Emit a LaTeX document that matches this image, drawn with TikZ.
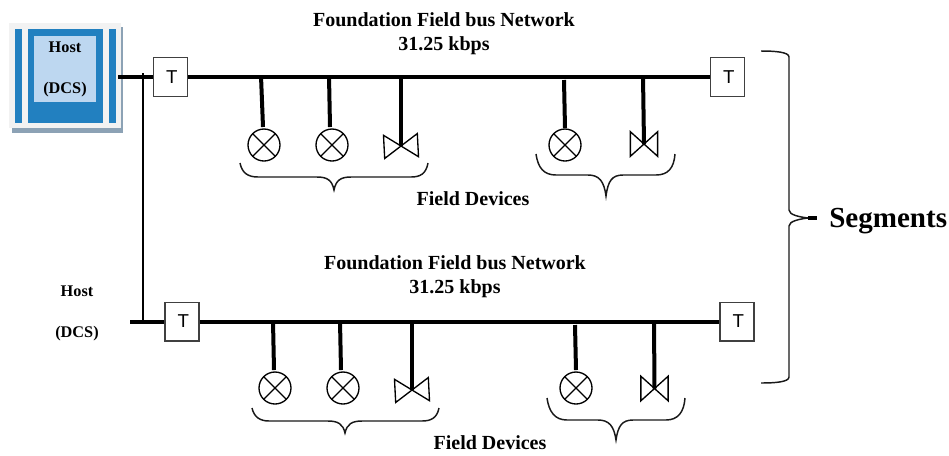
\documentclass[tikz,border=0pt]{standalone}
\usepackage{fontspec}
\setmainfont{Liberation Serif}
\setsansfont{Liberation Sans}
\definecolor{hostblue}{HTML}{2280C0}
\definecolor{hostlight}{HTML}{BDD7F0}
\definecolor{hostpanel}{HTML}{F2F2F2}
\definecolor{hostshadow}{HTML}{8CA2B5}
\tikzstyle{terminator} = [rectangle, minimum width=25.5pt, minimum height=29pt, inner sep=0pt, draw=black!75, line width=1pt, fill=white, font=\sffamily\fontsize{14}{14}\selectfont]
\tikzstyle{sensor} = [circle, minimum size=24pt, inner sep=0pt, draw=black, line width=1pt, path picture={\draw [line width=1pt] (path picture bounding box.north west) -- (path picture bounding box.south east) (path picture bounding box.north east) -- (path picture bounding box.south west);}]
\tikzstyle{bowtie} = [inner sep=0pt, minimum width=25pt, minimum height=17pt, rotate=3, append after command={\pgfextra{\draw [line width=1pt] (\tikzlastnode.north west) -- (\tikzlastnode.south east) -- (\tikzlastnode.north east) -- (\tikzlastnode.south west) -- cycle;}}]
\tikzstyle{bowtie small} = [inner sep=0pt, minimum width=20pt, minimum height=18pt, append after command={\pgfextra{\draw [line width=1pt] (\tikzlastnode.north west) -- (\tikzlastnode.south east) -- (\tikzlastnode.north east) -- (\tikzlastnode.south west) -- cycle;}}]
\tikzstyle{bus} = [line width=3pt]
\tikzstyle{stem} = [line width=3pt]
\tikzstyle{curly} = [line width=1.1pt, black!90]
\tikzstyle{label} = [inner sep=0pt, align=center, font=\bfseries\fontsize{15}{18}\selectfont]
\tikzstyle{hostlabel} = [inner sep=0pt, font=\bfseries\fontsize{12.2}{14}\selectfont]
\begin{document}
\begin{tikzpicture}[x=0.75pt,y=-0.75pt]
\useasboundingbox (0,0) rectangle (949,455);

% host panel
\fill [hostshadow] (12,27) rectangle (123,133);
\fill [hostpanel] (9,23) rectangle (121,128);
\fill [hostblue] (15,29) rectangle (22,123);
\fill [hostblue] (28,29) rectangle (103,123);
\fill [hostblue] (109,29) rectangle (116,123);
\fill [hostlight] (34,36) rectangle (96,102);
\node (host a) [hostlabel] at (65,47) {Host};
\node (dcs a) [hostlabel] at (65,90) {(DCS)};
\node (host b) [hostlabel] at (77,291) {Host};
\node (dcs b) [hostlabel] at (77,334) {(DCS)};

\node (title a) [label] at (444,34) {Foundation Field bus Network\\31.25 kbps};
\node (title b) [label] at (455,277) {Foundation Field bus Network\\31.25 kbps};
\node (field a) [label] at (473,199) {Field Devices};
\node (field b) [label] at (490,443) {Field Devices};
\node (segments) [label, anchor=west, font=\bfseries\fontsize{21.8}{22}\selectfont] at (829,221) {Segments};

\coordinate (start a) at (118,77);
\coordinate (start b) at (130,321.5);
\coordinate (link a) at (143,73);
\coordinate (link b) at (143,321.5);
\node (term a) [terminator] at (170.5,77) {\hspace{2pt}T};
\node (end a) [terminator] at (727.5,77) {\hspace{2pt}T};
\node (term b) [terminator] at (182,321.5) {\hspace{2pt}T};
\node (end b) [terminator] at (737,321.5) {\hspace{2pt}T};

\draw [bus] (start a) -- (term a);
\draw [bus] (term a) -- (end a);
\draw [bus] (start b) -- (term b);
\draw [bus] (term b) -- (end b);
\draw [line width=1.5pt] (link a) -- (link b);

% first segment
\node (sensor a1) [sensor] at (264,145) {};
\node (sensor a2) [sensor] at (332,145) {};
\node (valve a3) [bowtie] at (401,146) {};
\node (sensor a4) [sensor] at (565,145) {};
\node (valve a5) [bowtie small] at (644,144) {};
\coordinate (tap a1) at (261,76);
\coordinate (tap a2) at (329,76);
\coordinate (tap a3) at (401,76);
\coordinate (tap a4) at (564,80);
\coordinate (tap a5) at (643,76);
\draw [stem] (tap a1) -- (263,127);
\draw [stem] (tap a2) -- (330,127);
\draw [stem] (tap a3) -- (valve a3.center);
\draw [stem] (tap a4) -- (565,128);
\draw [stem] (tap a5) -- (valve a5.center);

% second segment
\node (sensor b1) [sensor] at (275,388) {};
\node (sensor b2) [sensor] at (343,388) {};
\node (valve b3) [bowtie] at (412,390) {};
\node (sensor b4) [sensor] at (576,388) {};
\node (valve b5) [bowtie small] at (654.5,388.5) {};
\coordinate (tap b1) at (273,321);
\coordinate (tap b2) at (340,321);
\coordinate (tap b3) at (412,321);
\coordinate (tap b4) at (575,325);
\coordinate (tap b5) at (654,321);
\draw [stem] (tap b1) -- (274,370);
\draw [stem] (tap b2) -- (341,370);
\draw [stem] (tap b3) -- (valve b3.center);
\draw [stem] (tap b4) -- (576,370);
\draw [stem] (tap b5) -- (valve b5.center);

% braces
\draw [curly] (240,163) .. controls (242,173) and (248,177) .. (258,177) -- (317,177) .. controls (327,177) and (332,180) .. (334,190) .. controls (336,180) and (341,177) .. (351,177) -- (411,177) .. controls (420,177) and (426,174) .. (428,163);
\draw [curly] (536,154) .. controls (538,168) and (544,175) .. (556,175) -- (588,175) .. controls (599,175) and (604,181) .. (606,196) .. controls (608,181) and (612,175) .. (623,175) -- (656,175) .. controls (668,175) and (674,168) .. (675,154);
\draw [curly] (252,408) .. controls (254,417) and (260,421) .. (269,421) -- (328,421) .. controls (338,421) and (343,424) .. (345,433) .. controls (347,424) and (352,421) .. (362,421) -- (422,421) .. controls (431,421) and (437,418) .. (439,408);
\draw [curly] (547,398) .. controls (549,412) and (555,420) .. (567,420) -- (598,420) .. controls (609,420) and (614,426) .. (616,440) .. controls (618,426) and (622,420) .. (633,420) -- (666,420) .. controls (678,420) and (684,412) .. (685,398);
\draw [curly] (761,51) .. controls (775,51) and (789,52) .. (789,57) -- (789,210) .. controls (789,215) and (800,217) .. (808,218) .. controls (800,219) and (789,221) .. (789,226) -- (789,377) .. controls (789,382) and (775,383) .. (761,383);
\draw [line width=3pt] (808,218) -- (817,218);
\end{tikzpicture}
\end{document}
